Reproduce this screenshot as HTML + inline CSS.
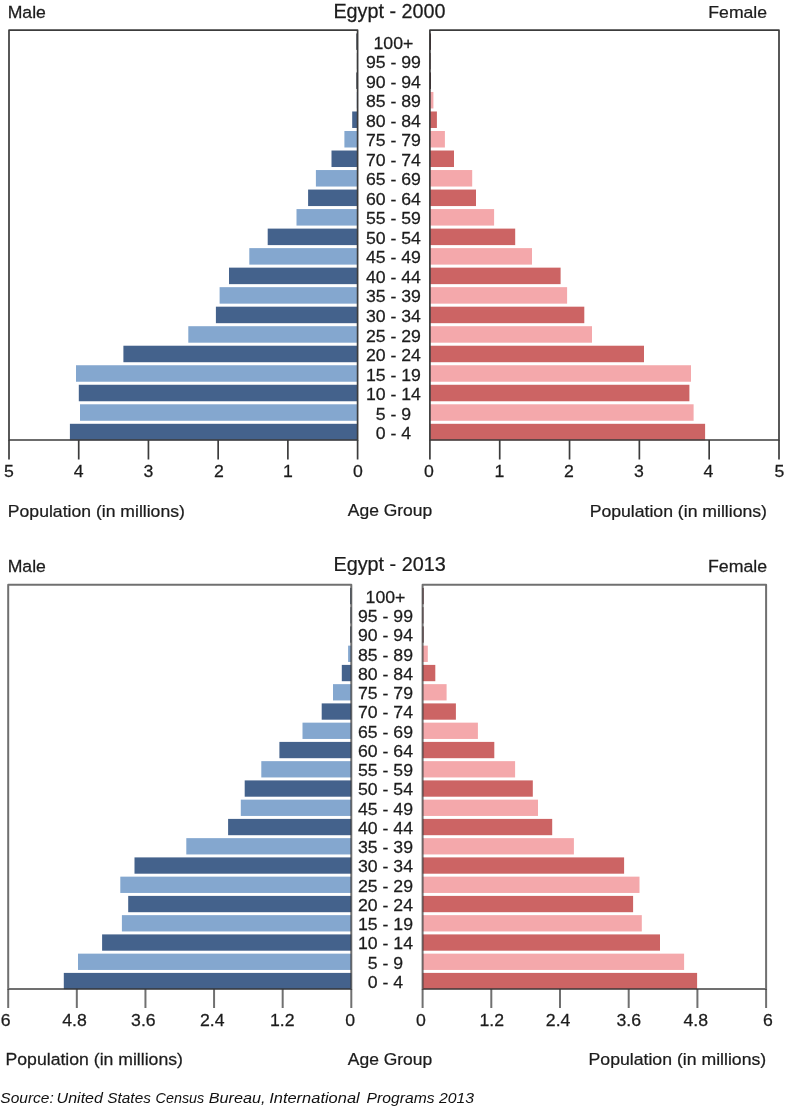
<!DOCTYPE html>
<html><head><meta charset="utf-8"><title>Egypt population pyramids</title>
<style>
html,body{margin:0;padding:0;background:#fff;width:785px;height:1108px;overflow:hidden}
svg{display:block;will-change:transform}
text{font-family:"Liberation Sans", sans-serif;font-size:17.0px;fill:#1c1c1c;stroke:#1c1c1c;stroke-width:0.25px}
text.t{font-size:20.6px}
text.src{font-style:italic;font-size:15.2px;fill:#111;stroke:none}
</style></head><body>
<svg width="785" height="1108" viewBox="0 0 785 1108">
<rect width="785" height="1108" fill="#fff"/>
<rect x="356.4" y="33.4" width="1.2" height="16.5" fill="#1c2330"/>
<rect x="429.9" y="33.4" width="1.1" height="16.5" fill="#3a1a1e"/>
<rect x="356.9" y="52.92" width="0.7" height="16.5" fill="#1c2330"/>
<rect x="429.9" y="52.92" width="0.7" height="16.5" fill="#3a1a1e"/>
<rect x="356.4" y="72.44" width="1.2" height="16.5" fill="#1c2330"/>
<rect x="429.9" y="72.44" width="1.1" height="16.5" fill="#3a1a1e"/>
<rect x="356.8" y="91.96" width="0.8" height="16.5" fill="#84a7cf"/>
<rect x="429.9" y="91.96" width="3.5" height="16.5" fill="#f4a8ab"/>
<rect x="352.2" y="111.48" width="5.4" height="16.5" fill="#44628c"/>
<rect x="429.9" y="111.48" width="7" height="16.5" fill="#cc6464"/>
<rect x="344.4" y="131" width="13.2" height="16.5" fill="#84a7cf"/>
<rect x="429.9" y="131" width="15" height="16.5" fill="#f4a8ab"/>
<rect x="331.5" y="150.52" width="26.1" height="16.5" fill="#44628c"/>
<rect x="429.9" y="150.52" width="24.1" height="16.5" fill="#cc6464"/>
<rect x="315.9" y="170.04" width="41.7" height="16.5" fill="#84a7cf"/>
<rect x="429.9" y="170.04" width="42.3" height="16.5" fill="#f4a8ab"/>
<rect x="308.1" y="189.56" width="49.5" height="16.5" fill="#44628c"/>
<rect x="429.9" y="189.56" width="46.1" height="16.5" fill="#cc6464"/>
<rect x="296.5" y="209.08" width="61.1" height="16.5" fill="#84a7cf"/>
<rect x="429.9" y="209.08" width="64.2" height="16.5" fill="#f4a8ab"/>
<rect x="267.7" y="228.6" width="89.9" height="16.5" fill="#44628c"/>
<rect x="429.9" y="228.6" width="85.3" height="16.5" fill="#cc6464"/>
<rect x="249.3" y="248.12" width="108.3" height="16.5" fill="#84a7cf"/>
<rect x="429.9" y="248.12" width="102.1" height="16.5" fill="#f4a8ab"/>
<rect x="229" y="267.64" width="128.6" height="16.5" fill="#44628c"/>
<rect x="429.9" y="267.64" width="130.7" height="16.5" fill="#cc6464"/>
<rect x="219.6" y="287.16" width="138" height="16.5" fill="#84a7cf"/>
<rect x="429.9" y="287.16" width="137.2" height="16.5" fill="#f4a8ab"/>
<rect x="215.9" y="306.68" width="141.7" height="16.5" fill="#44628c"/>
<rect x="429.9" y="306.68" width="154.4" height="16.5" fill="#cc6464"/>
<rect x="188.3" y="326.2" width="169.3" height="16.5" fill="#84a7cf"/>
<rect x="429.9" y="326.2" width="162.1" height="16.5" fill="#f4a8ab"/>
<rect x="123.4" y="345.72" width="234.2" height="16.5" fill="#44628c"/>
<rect x="429.9" y="345.72" width="214.1" height="16.5" fill="#cc6464"/>
<rect x="76" y="365.24" width="281.6" height="16.5" fill="#84a7cf"/>
<rect x="429.9" y="365.24" width="261.1" height="16.5" fill="#f4a8ab"/>
<rect x="78.8" y="384.76" width="278.8" height="16.5" fill="#44628c"/>
<rect x="429.9" y="384.76" width="259.5" height="16.5" fill="#cc6464"/>
<rect x="80" y="404.28" width="277.6" height="16.5" fill="#84a7cf"/>
<rect x="429.9" y="404.28" width="263.7" height="16.5" fill="#f4a8ab"/>
<rect x="69.9" y="423.8" width="287.7" height="16.5" fill="#44628c"/>
<rect x="429.9" y="423.8" width="275.2" height="16.5" fill="#cc6464"/>
<g stroke-opacity="1">
<path d="M357.6 440V30.2H9V440Z" fill="none" stroke="#3c3c3c" stroke-width="1.7" stroke-linejoin="round"/>
<path d="M429.9 440V30.2H779V440Z" fill="none" stroke="#3c3c3c" stroke-width="1.7" stroke-linejoin="round"/>
<path d="M9 440V459.5" stroke="#3c3c3c" stroke-width="1.7"/>
<path d="M429.9 440V459.5" stroke="#3c3c3c" stroke-width="1.7"/>
<path d="M78.72 440V459.5" stroke="#3c3c3c" stroke-width="1.7"/>
<path d="M499.72 440V459.5" stroke="#3c3c3c" stroke-width="1.7"/>
<path d="M148.44 440V459.5" stroke="#3c3c3c" stroke-width="1.7"/>
<path d="M569.54 440V459.5" stroke="#3c3c3c" stroke-width="1.7"/>
<path d="M218.16 440V459.5" stroke="#3c3c3c" stroke-width="1.7"/>
<path d="M639.36 440V459.5" stroke="#3c3c3c" stroke-width="1.7"/>
<path d="M287.88 440V459.5" stroke="#3c3c3c" stroke-width="1.7"/>
<path d="M709.18 440V459.5" stroke="#3c3c3c" stroke-width="1.7"/>
<path d="M357.6 440V459.5" stroke="#3c3c3c" stroke-width="1.7"/>
<path d="M779 440V459.5" stroke="#3c3c3c" stroke-width="1.7"/>
</g>
<text text-anchor="middle" transform="translate(8.8 476.8) scale(1.04 1)">5</text>
<text text-anchor="middle" transform="translate(428.8 476.8) scale(1.04 1)">0</text>
<text text-anchor="middle" transform="translate(78.6 476.8) scale(1.04 1)">4</text>
<text text-anchor="middle" transform="translate(499.5 476.8) scale(1.04 1)">1</text>
<text text-anchor="middle" transform="translate(148.4 476.8) scale(1.04 1)">3</text>
<text text-anchor="middle" transform="translate(569 476.8) scale(1.04 1)">2</text>
<text text-anchor="middle" transform="translate(218.9 476.8) scale(1.04 1)">2</text>
<text text-anchor="middle" transform="translate(638.8 476.8) scale(1.04 1)">3</text>
<text text-anchor="middle" transform="translate(288 476.8) scale(1.04 1)">1</text>
<text text-anchor="middle" transform="translate(708.5 476.8) scale(1.04 1)">4</text>
<text text-anchor="middle" transform="translate(358 476.8) scale(1.04 1)">0</text>
<text text-anchor="middle" transform="translate(779.4 476.8) scale(1.04 1)">5</text>
<text text-anchor="middle" transform="translate(393.4 48.7) scale(1.04 1)">100+</text>
<text text-anchor="middle" transform="translate(393.4 68.22) scale(1.04 1)">95 - 99</text>
<text text-anchor="middle" transform="translate(393.4 87.74) scale(1.04 1)">90 - 94</text>
<text text-anchor="middle" transform="translate(393.4 107.26) scale(1.04 1)">85 - 89</text>
<text text-anchor="middle" transform="translate(393.4 126.78) scale(1.04 1)">80 - 84</text>
<text text-anchor="middle" transform="translate(393.4 146.3) scale(1.04 1)">75 - 79</text>
<text text-anchor="middle" transform="translate(393.4 165.82) scale(1.04 1)">70 - 74</text>
<text text-anchor="middle" transform="translate(393.4 185.34) scale(1.04 1)">65 - 69</text>
<text text-anchor="middle" transform="translate(393.4 204.86) scale(1.04 1)">60 - 64</text>
<text text-anchor="middle" transform="translate(393.4 224.38) scale(1.04 1)">55 - 59</text>
<text text-anchor="middle" transform="translate(393.4 243.9) scale(1.04 1)">50 - 54</text>
<text text-anchor="middle" transform="translate(393.4 263.42) scale(1.04 1)">45 - 49</text>
<text text-anchor="middle" transform="translate(393.4 282.94) scale(1.04 1)">40 - 44</text>
<text text-anchor="middle" transform="translate(393.4 302.46) scale(1.04 1)">35 - 39</text>
<text text-anchor="middle" transform="translate(393.4 321.98) scale(1.04 1)">30 - 34</text>
<text text-anchor="middle" transform="translate(393.4 341.5) scale(1.04 1)">25 - 29</text>
<text text-anchor="middle" transform="translate(393.4 361.02) scale(1.04 1)">20 - 24</text>
<text text-anchor="middle" transform="translate(393.4 380.54) scale(1.04 1)">15 - 19</text>
<text text-anchor="middle" transform="translate(393.4 400.06) scale(1.04 1)">10 - 14</text>
<text text-anchor="middle" transform="translate(393.4 419.58) scale(1.04 1)">5 - 9</text>
<text text-anchor="middle" transform="translate(393.4 439.1) scale(1.04 1)">0 - 4</text>
<text transform="translate(7.64 17.8) scale(1.0377 1)">Male</text>
<text transform="translate(708.34 17.7) scale(1.0367 1)">Female</text>
<text transform="translate(7.85 516.5) scale(1.0350 1)">Population (in millions)</text>
<text transform="translate(347.8 516.3) scale(1.0270 1)">Age Group</text>
<text transform="translate(589.64 516.5) scale(1.0374 1)">Population (in millions)</text>
<text class="t" transform="translate(333.42 17.75) scale(0.9602 1)">Egypt - 2000</text>
<rect x="350.3" y="587.9" width="1" height="16.3" fill="#3c4a60"/>
<rect x="422.6" y="587.9" width="1" height="16.3" fill="#5a2a30"/>
<rect x="350.5" y="607.15" width="0.8" height="16.3" fill="#3c4a60"/>
<rect x="422.6" y="607.15" width="0.8" height="16.3" fill="#5a2a30"/>
<rect x="350.3" y="626.4" width="1" height="16.3" fill="#3c4a60"/>
<rect x="422.6" y="626.4" width="1" height="16.3" fill="#5a2a30"/>
<rect x="348.1" y="645.65" width="3.2" height="16.3" fill="#84a7cf"/>
<rect x="422.6" y="645.65" width="5.2" height="16.3" fill="#f4a8ab"/>
<rect x="341.8" y="664.9" width="9.5" height="16.3" fill="#44628c"/>
<rect x="422.6" y="664.9" width="12.7" height="16.3" fill="#cc6464"/>
<rect x="333" y="684.15" width="18.3" height="16.3" fill="#84a7cf"/>
<rect x="422.6" y="684.15" width="24" height="16.3" fill="#f4a8ab"/>
<rect x="321.7" y="703.4" width="29.6" height="16.3" fill="#44628c"/>
<rect x="422.6" y="703.4" width="33.3" height="16.3" fill="#cc6464"/>
<rect x="302.5" y="722.65" width="48.8" height="16.3" fill="#84a7cf"/>
<rect x="422.6" y="722.65" width="55.3" height="16.3" fill="#f4a8ab"/>
<rect x="279.4" y="741.9" width="71.9" height="16.3" fill="#44628c"/>
<rect x="422.6" y="741.9" width="71.7" height="16.3" fill="#cc6464"/>
<rect x="261.3" y="761.15" width="90" height="16.3" fill="#84a7cf"/>
<rect x="422.6" y="761.15" width="92.5" height="16.3" fill="#f4a8ab"/>
<rect x="244.7" y="780.4" width="106.6" height="16.3" fill="#44628c"/>
<rect x="422.6" y="780.4" width="110.2" height="16.3" fill="#cc6464"/>
<rect x="240.8" y="799.65" width="110.5" height="16.3" fill="#84a7cf"/>
<rect x="422.6" y="799.65" width="115.4" height="16.3" fill="#f4a8ab"/>
<rect x="228.1" y="818.9" width="123.2" height="16.3" fill="#44628c"/>
<rect x="422.6" y="818.9" width="129.6" height="16.3" fill="#cc6464"/>
<rect x="186.3" y="838.15" width="165" height="16.3" fill="#84a7cf"/>
<rect x="422.6" y="838.15" width="151.3" height="16.3" fill="#f4a8ab"/>
<rect x="134.5" y="857.4" width="216.8" height="16.3" fill="#44628c"/>
<rect x="422.6" y="857.4" width="201.5" height="16.3" fill="#cc6464"/>
<rect x="120.3" y="876.65" width="231" height="16.3" fill="#84a7cf"/>
<rect x="422.6" y="876.65" width="216.9" height="16.3" fill="#f4a8ab"/>
<rect x="128.2" y="895.9" width="223.1" height="16.3" fill="#44628c"/>
<rect x="422.6" y="895.9" width="210.5" height="16.3" fill="#cc6464"/>
<rect x="121.9" y="915.15" width="229.4" height="16.3" fill="#84a7cf"/>
<rect x="422.6" y="915.15" width="219.2" height="16.3" fill="#f4a8ab"/>
<rect x="102.1" y="934.4" width="249.2" height="16.3" fill="#44628c"/>
<rect x="422.6" y="934.4" width="237.4" height="16.3" fill="#cc6464"/>
<rect x="78" y="953.65" width="273.3" height="16.3" fill="#84a7cf"/>
<rect x="422.6" y="953.65" width="261.5" height="16.3" fill="#f4a8ab"/>
<rect x="63.8" y="972.9" width="287.5" height="16.3" fill="#44628c"/>
<rect x="422.6" y="972.9" width="274.5" height="16.3" fill="#cc6464"/>
<g stroke-opacity="0.7">
<path d="M351.3 989.05V584.7H8.2V989.05Z" fill="none" stroke="#333333" stroke-width="2.0" stroke-linejoin="round"/>
<path d="M422.6 989.05V584.7H766.1V989.05Z" fill="none" stroke="#333333" stroke-width="2.0" stroke-linejoin="round"/>
<path d="M8.2 989.05V1008" stroke="#333333" stroke-width="2.0"/>
<path d="M422.6 989.05V1008" stroke="#333333" stroke-width="2.0"/>
<path d="M76.82 989.05V1008" stroke="#333333" stroke-width="2.0"/>
<path d="M491.3 989.05V1008" stroke="#333333" stroke-width="2.0"/>
<path d="M145.44 989.05V1008" stroke="#333333" stroke-width="2.0"/>
<path d="M560 989.05V1008" stroke="#333333" stroke-width="2.0"/>
<path d="M214.06 989.05V1008" stroke="#333333" stroke-width="2.0"/>
<path d="M628.7 989.05V1008" stroke="#333333" stroke-width="2.0"/>
<path d="M282.68 989.05V1008" stroke="#333333" stroke-width="2.0"/>
<path d="M697.4 989.05V1008" stroke="#333333" stroke-width="2.0"/>
<path d="M351.3 989.05V1008" stroke="#333333" stroke-width="2.0"/>
<path d="M766.1 989.05V1008" stroke="#333333" stroke-width="2.0"/>
</g>
<text text-anchor="middle" transform="translate(5.6 1025.8) scale(1.04 1)">6</text>
<text text-anchor="middle" transform="translate(421 1025.8) scale(1.04 1)">0</text>
<text text-anchor="middle" transform="translate(74.5 1025.8) scale(1.04 1)">4.8</text>
<text text-anchor="middle" transform="translate(491.7 1025.8) scale(1.04 1)">1.2</text>
<text text-anchor="middle" transform="translate(143.4 1025.8) scale(1.04 1)">3.6</text>
<text text-anchor="middle" transform="translate(558.1 1025.8) scale(1.04 1)">2.4</text>
<text text-anchor="middle" transform="translate(212.3 1025.8) scale(1.04 1)">2.4</text>
<text text-anchor="middle" transform="translate(628.8 1025.8) scale(1.04 1)">3.6</text>
<text text-anchor="middle" transform="translate(282.2 1025.8) scale(1.04 1)">1.2</text>
<text text-anchor="middle" transform="translate(695.7 1025.8) scale(1.04 1)">4.8</text>
<text text-anchor="middle" transform="translate(350.2 1025.8) scale(1.04 1)">0</text>
<text text-anchor="middle" transform="translate(767.9 1025.8) scale(1.04 1)">6</text>
<text text-anchor="middle" transform="translate(385.5 602.8) scale(1.04 1)">100+</text>
<text text-anchor="middle" transform="translate(385.5 622.05) scale(1.04 1)">95 - 99</text>
<text text-anchor="middle" transform="translate(385.5 641.3) scale(1.04 1)">90 - 94</text>
<text text-anchor="middle" transform="translate(385.5 660.55) scale(1.04 1)">85 - 89</text>
<text text-anchor="middle" transform="translate(385.5 679.8) scale(1.04 1)">80 - 84</text>
<text text-anchor="middle" transform="translate(385.5 699.05) scale(1.04 1)">75 - 79</text>
<text text-anchor="middle" transform="translate(385.5 718.3) scale(1.04 1)">70 - 74</text>
<text text-anchor="middle" transform="translate(385.5 737.55) scale(1.04 1)">65 - 69</text>
<text text-anchor="middle" transform="translate(385.5 756.8) scale(1.04 1)">60 - 64</text>
<text text-anchor="middle" transform="translate(385.5 776.05) scale(1.04 1)">55 - 59</text>
<text text-anchor="middle" transform="translate(385.5 795.3) scale(1.04 1)">50 - 54</text>
<text text-anchor="middle" transform="translate(385.5 814.55) scale(1.04 1)">45 - 49</text>
<text text-anchor="middle" transform="translate(385.5 833.8) scale(1.04 1)">40 - 44</text>
<text text-anchor="middle" transform="translate(385.5 853.05) scale(1.04 1)">35 - 39</text>
<text text-anchor="middle" transform="translate(385.5 872.3) scale(1.04 1)">30 - 34</text>
<text text-anchor="middle" transform="translate(385.5 891.55) scale(1.04 1)">25 - 29</text>
<text text-anchor="middle" transform="translate(385.5 910.8) scale(1.04 1)">20 - 24</text>
<text text-anchor="middle" transform="translate(385.5 930.05) scale(1.04 1)">15 - 19</text>
<text text-anchor="middle" transform="translate(385.5 949.3) scale(1.04 1)">10 - 14</text>
<text text-anchor="middle" transform="translate(385.5 968.55) scale(1.04 1)">5 - 9</text>
<text text-anchor="middle" transform="translate(385.5 987.8) scale(1.04 1)">0 - 4</text>
<text transform="translate(7.64 571.7) scale(1.0377 1)">Male</text>
<text transform="translate(708.03 571.5) scale(1.0440 1)">Female</text>
<text transform="translate(5.54 1064.9) scale(1.0380 1)">Population (in millions)</text>
<text transform="translate(347.8 1064.8) scale(1.0270 1)">Age Group</text>
<text transform="translate(588.54 1065) scale(1.0392 1)">Population (in millions)</text>
<text class="t" transform="translate(333.42 571.35) scale(0.9623 1)">Egypt - 2013</text>
<text class="src" transform="translate(0.29 1102.8) scale(1.0224 1)">Source:</text>
<text class="src" transform="translate(56.58 1102.8) scale(1.0558 1)">United</text>
<text class="src" transform="translate(107.29 1102.8) scale(1.0130 1)">States</text>
<text class="src" transform="translate(155.59 1102.8) scale(0.9453 1)">Census</text>
<text class="src" transform="translate(208.77 1102.8) scale(1.0686 1)">Bureau,</text>
<text class="src" transform="translate(269.19 1102.8) scale(1.0823 1)">International</text>
<text class="src" transform="translate(366.58 1102.8) scale(1.0323 1)">Programs</text>
<text class="src" transform="translate(438.9 1102.8) scale(1.0388 1)">2013</text>
</svg>
</body></html>
